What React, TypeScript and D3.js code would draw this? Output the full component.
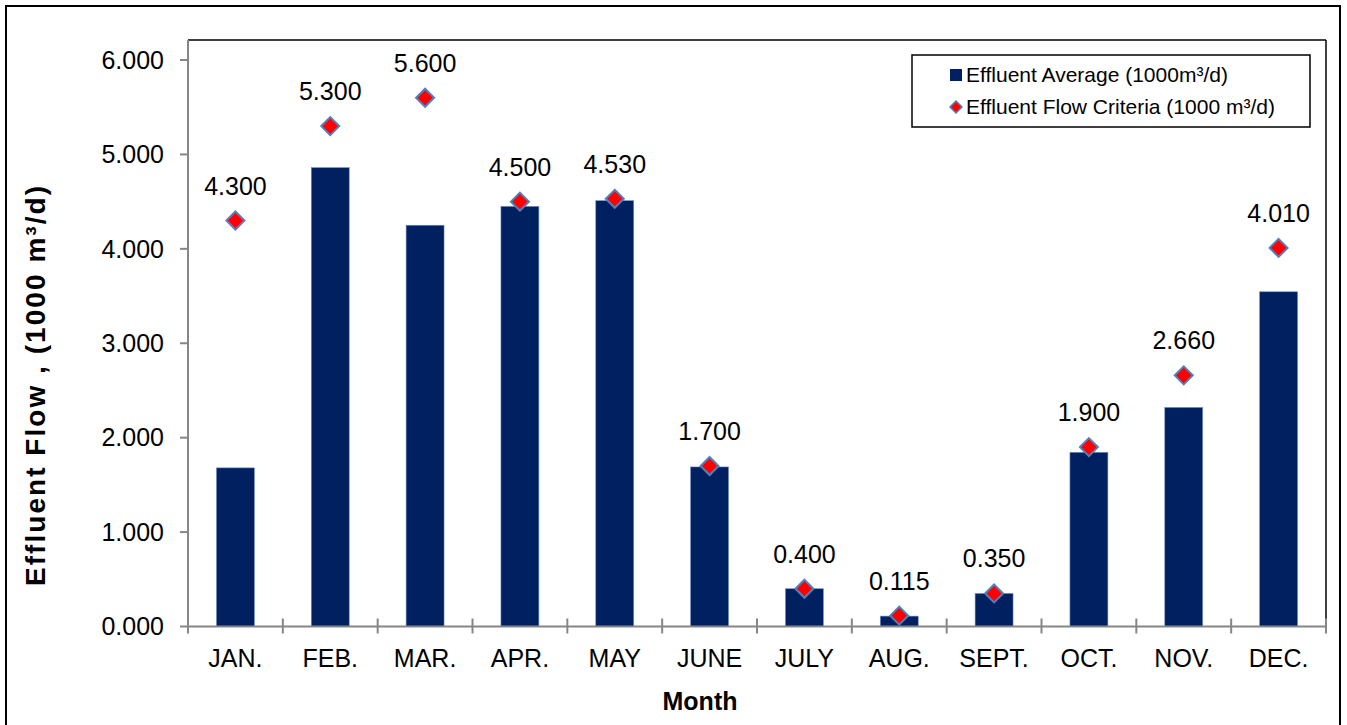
import React from "react";
import * as d3 from "d3";

const months = ["JAN.", "FEB.", "MAR.", "APR.", "MAY", "JUNE", "JULY", "AUG.", "SEPT.", "OCT.", "NOV.", "DEC."];
const effluentAverage = [1.68, 4.86, 4.25, 4.45, 4.51, 1.69, 0.4, 0.11, 0.35, 1.845, 2.32, 3.545];
const flowCriteria = [4.3, 5.3, 5.6, 4.5, 4.53, 1.7, 0.4, 0.115, 0.35, 1.9, 2.66, 4.01];
const yTicks = [0, 1, 2, 3, 4, 5, 6];
const seriesNames = ["Effluent Average (1000m³/d)", "Effluent Flow Criteria (1000 m³/d)"];

const W = 1347;
const H = 725;
const plot = { left: 188, right: 1326, top: 40, bottom: 626.5 };
const FONT = "Arial, 'Liberation Sans', sans-serif";
const GRAY = "#868686";
const NAVY = "#002060";

export default function App() {
  const x = d3.scaleBand<string>().domain(months).range([plot.left, plot.right]).paddingInner(0.6).paddingOuter(0.3);
  const y = d3.scaleLinear().domain([0, 6]).range([plot.bottom, 60]);
  const step = x.step();
  const fmt = d3.format(".3f");
  const boundaries = d3.range(months.length + 1).map((i) => plot.left + i * step);
  const diamond = (cx: number, cy: number, r: number) =>
    `M${cx},${cy - r}L${cx + r},${cy}L${cx},${cy + r}L${cx - r},${cy}Z`;

  return (
    <svg width={W} height={H} style={{ position: "fixed", left: 0, top: 0, background: "#fff" }} fontFamily={FONT}>
      <rect x={0} y={0} width={W} height={H} fill="#fff" />
      {/* outer border */}
      <rect x={6} y={6} width={1334} height={730} fill="none" stroke="#000" strokeWidth={2} />
      {/* plot area border (top/right) */}
      <line x1={plot.left} x2={plot.right} y1={plot.top} y2={plot.top} stroke="#000" strokeWidth={1.5} />
      <line x1={plot.right} x2={plot.right} y1={plot.top} y2={plot.bottom} stroke="#000" strokeWidth={1.5} />

      {/* bars */}
      {effluentAverage.map((v, i) => (
        <rect
          key={"b" + i}
          x={x(months[i])!}
          y={y(v)}
          width={x.bandwidth()}
          height={y(0) - y(v)}
          fill={NAVY}
          stroke="#6f8fc4"
          strokeWidth={0.6}
        />
      ))}

      {/* axes */}
      <line x1={plot.left} x2={plot.left} y1={plot.top} y2={plot.bottom} stroke={GRAY} strokeWidth={2} />
      <line x1={plot.left} x2={plot.right} y1={plot.bottom} y2={plot.bottom} stroke={GRAY} strokeWidth={2} />
      {yTicks.map((t) => (
        <g key={"yt" + t}>
          <line x1={plot.left - 8} x2={plot.left} y1={y(t)} y2={y(t)} stroke={GRAY} strokeWidth={2} />
          <text x={164} y={y(t)} dy="0.35em" textAnchor="end" fontSize={25} fill="#000">
            {fmt(t)}
          </text>
        </g>
      ))}
      {boundaries.map((bx, i) => (
        <line key={"xt" + i} x1={bx} x2={bx} y1={plot.bottom - 8} y2={plot.bottom + 7} stroke={GRAY} strokeWidth={2} />
      ))}
      {months.map((m) => (
        <text key={"xl" + m} x={x(m)! + x.bandwidth() / 2} y={667} textAnchor="middle" fontSize={25} fill="#000">
          {m}
        </text>
      ))}

      {/* criteria markers + labels */}
      {flowCriteria.map((v, i) => {
        const cx = x(months[i])! + x.bandwidth() / 2;
        const cy = y(v);
        return (
          <g key={"d" + i}>
            <path d={diamond(cx, cy, 9)} fill="#ff0000" stroke="#4f81bd" strokeWidth={2} />
            <text x={cx} y={cy - 26} textAnchor="middle" fontSize={25} fill="#000">
              {fmt(v)}
            </text>
          </g>
        );
      })}

      {/* axis titles */}
      <text x={700} y={710} textAnchor="middle" fontSize={25} fontWeight="bold" fill="#000">
        Month
      </text>
      <text
        transform={`translate(45,386) rotate(-90)`}
        textAnchor="middle"
        fontSize={28}
        fontWeight="bold"
        fill="#000"
        textLength={400}
        lengthAdjust="spacing"
      >
        Effluent Flow , (1000 m³/d)
      </text>

      {/* legend */}
      <g>
        <rect x={912} y={55} width={398} height={72} fill="#fff" stroke="#000" strokeWidth={1.5} />
        <rect x={950} y={69} width={12} height={12} fill={NAVY} />
        <text x={966} y={75} dy="0.35em" fontSize={21} fill="#000">
          {seriesNames[0]}
        </text>
        <path d={diamond(956, 107, 6)} fill="#ff0000" stroke="#4f81bd" strokeWidth={1.5} />
        <text x={966} y={107} dy="0.35em" fontSize={21} fill="#000">
          {seriesNames[1]}
        </text>
      </g>
    </svg>
  );
}
